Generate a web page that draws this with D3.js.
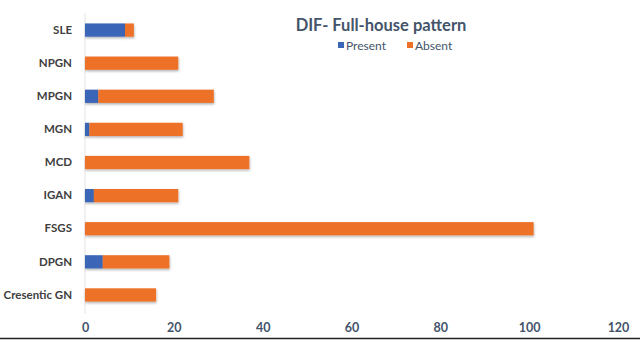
<!DOCTYPE html>
<html lang="en">
<head>
    <meta charset="UTF-8">
    <title>DIF- Full-house pattern</title>
    <script src="https://d3js.org/d3.v7.min.js"></script>
    <style>
        body { margin: 0; background: #fff; }
        svg text { font-family: Lato, "Open Sans", sans-serif; }
        .y-axis text { font-size: 11.5px; font-weight: bold; fill: #404040; }
        .x-axis text { font-size: 12.5px; font-weight: bold; fill: #44546a; }
        .title { font-size: 16.5px; font-weight: bold; fill: #44546a; }
        .legend-text { font-size: 12px; fill: #44546a; }
    </style>
</head>
<body>
    <script>
        var w = 640;
        var h = 340;

        var categories = ["SLE", "NPGN", "MPGN", "MGN", "MCD", "IGAN", "FSGS", "DPGN", "Cresentic GN"];
        var present = [9, 0, 3, 1, 0, 2, 0, 4, 0];
        var absent = [2, 21, 26, 21, 37, 19, 101, 15, 16];
        var xTicks = [0, 20, 40, 60, 80, 100, 120];
        var seriesNames = ["Present", "Absent"];
        var colors = ["#3a66b8", "#ed7128"];

        var svg = d3.select("body")
            .append("svg")
            .attr("width", w)
            .attr("height", h);

        var defs = svg.append("defs");
        var shadow = defs.append("filter").attr("id", "shadow")
            .attr("x", "-5%").attr("y", "-30%").attr("width", "110%").attr("height", "180%");
        shadow.append("feDropShadow")
            .attr("dx", 0.5).attr("dy", 1.5).attr("stdDeviation", 1)
            .attr("flood-color", "#000").attr("flood-opacity", 0.3);

        var xScale = d3.scaleLinear()
            .domain([0, 120])
            .range([85, 618]);

        var yScale = d3.scaleBand()
            .domain(categories)
            .range([13.5, 311.5])
            .paddingInner(0.6)
            .paddingOuter(0.3);

        // y axis line
        svg.append("line")
            .attr("x1", xScale(0)).attr("x2", xScale(0))
            .attr("y1", 13).attr("y2", 314)
            .attr("stroke", "#e4e4e4")
            .attr("stroke-width", 1);

        var rows = categories.map(function(c, i) {
            return { cat: c, present: present[i], absent: absent[i] };
        });
        var stacked = d3.stack().keys(["present", "absent"])(rows);

        svg.selectAll(".series")
            .data(stacked)
            .enter()
            .append("g")
            .attr("class", "series")
            .attr("fill", function(d, i) { return colors[i]; })
            .attr("filter", "url(#shadow)")
            .selectAll("rect")
            .data(function(d) { return d.filter(function(s) { return s[1] > s[0]; }); })
            .enter()
            .append("rect")
            .attr("x", function(d) { return xScale(d[0]); })
            .attr("y", function(d) { return yScale(d.data.cat); })
            .attr("width", function(d) { return xScale(d[1]) - xScale(d[0]); })
            .attr("height", yScale.bandwidth());

        var yAxis = d3.axisLeft(yScale).tickSize(0).tickPadding(13);
        svg.append("g")
            .attr("class", "y-axis")
            .attr("transform", "translate(" + xScale(0) + ",0)")
            .call(yAxis)
            .call(function(g) { g.select(".domain").remove(); });

        var xAxis = d3.axisBottom(xScale).tickValues(xTicks).tickSize(0).tickPadding(0);
        svg.append("g")
            .attr("class", "x-axis")
            .attr("transform", "translate(0,323)")
            .call(xAxis)
            .call(function(g) { g.select(".domain").remove(); });

        svg.append("text")
            .attr("class", "title")
            .attr("x", 381)
            .attr("y", 31)
            .attr("text-anchor", "middle")
            .text("DIF- Full-house pattern");

        var legendX = [338, 407];
        var legend = svg.selectAll(".legend")
            .data(seriesNames)
            .enter()
            .append("g")
            .attr("class", "legend")
            .attr("transform", function(d, i) { return "translate(" + legendX[i] + ",45)"; });
        legend.append("rect")
            .attr("x", 0).attr("y", -3)
            .attr("width", 6).attr("height", 6)
            .attr("fill", function(d, i) { return colors[i]; });
        legend.append("text")
            .attr("class", "legend-text")
            .attr("x", 8)
            .attr("y", 4.5)
            .text(function(d) { return d; });

        // bottom border
        svg.append("line")
            .attr("x1", 0).attr("x2", w)
            .attr("y1", 338.5).attr("y2", 338.5)
            .attr("stroke", "#222")
            .attr("stroke-width", 1.5);
    </script>
</body>
</html>
